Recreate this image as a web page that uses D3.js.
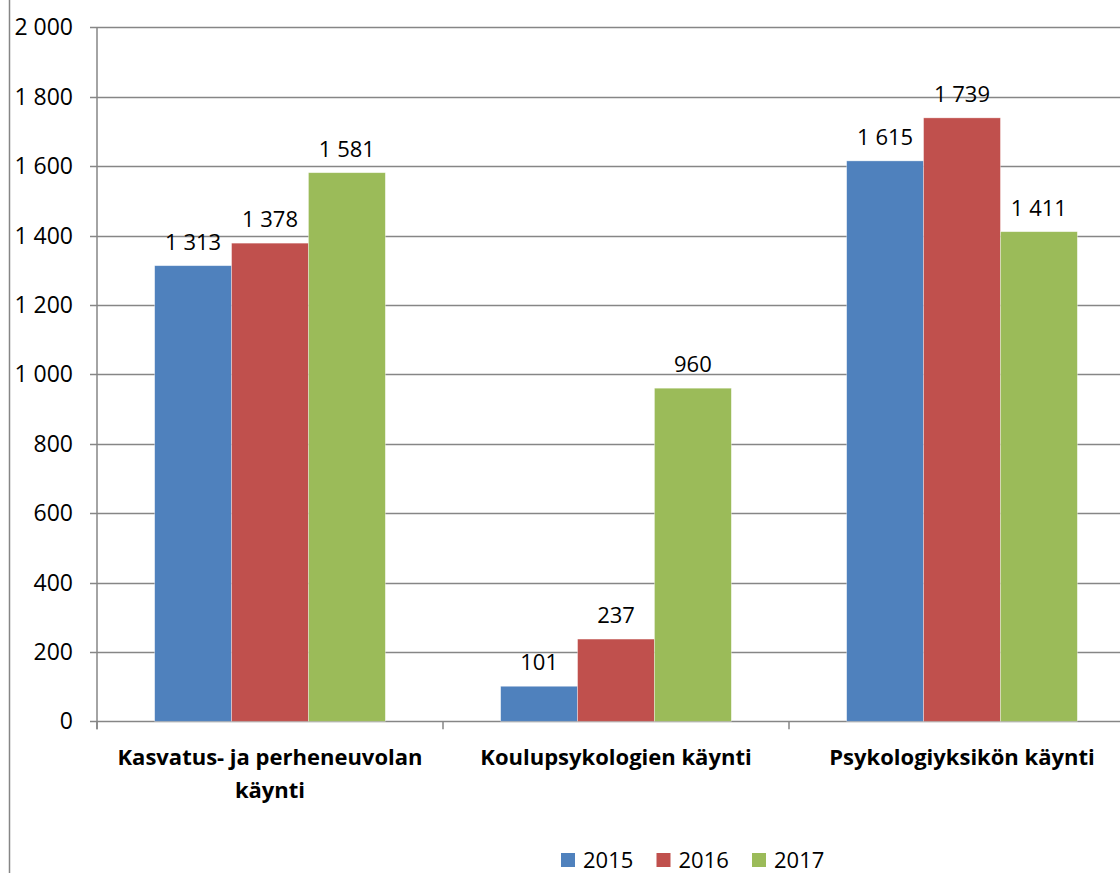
<!DOCTYPE html>
<html>
<head>
<meta charset="utf-8">
<script src="https://cdn.jsdelivr.net/npm/d3@7"></script>
<style>
  body { margin: 0; background: #fff; }
  svg { display: block; font-family: "Open Sans", Lato, sans-serif; }
</style>
</head>
<body>
<svg id="chart" width="1120" height="873"></svg>
<script>
// data
var categories = [["Kasvatus- ja perheneuvolan", "käynti"], ["Koulupsykologien käynti"], ["Psykologiyksikön käynti"]];
var years = ["2015", "2016", "2017"];
var v2015 = [1313, 101, 1615];
var v2016 = [1378, 237, 1739];
var v2017 = [1581, 960, 1411];
var yTicks = [0, 200, 400, 600, 800, 1000, 1200, 1400, 1600, 1800, 2000];
var colors = ["#4F81BD", "#C0504D", "#9BBB59"];

var series = [v2015, v2016, v2017];

var svg = d3.select("svg#chart"),
    width = +svg.attr("width"),
    height = +svg.attr("height");

var fmt = d3.formatLocale({decimal: ",", thousands: "\u00a0", grouping: [3], currency: ["", ""]}).format(",d");

// plot area
var plotLeft = 97, plotTop = 27.3, plotBottom = 721.3, catW = 346;

var x0 = d3.scaleBand().domain(d3.range(categories.length))
    .range([plotLeft, plotLeft + catW * categories.length]).paddingInner(0).paddingOuter(0);
var x1 = d3.scaleBand().domain(d3.range(years.length))
    .range([0, catW]).paddingInner(0).paddingOuter(0.75);
var y = d3.scaleLinear().domain([0, 2000]).range([plotBottom, plotTop]);

// outer chart border (left)
svg.append("line")
    .attr("x1", 9.5).attr("x2", 9.5).attr("y1", 0).attr("y2", height)
    .attr("stroke", "#868686").attr("stroke-width", 1.5);

// gridlines
svg.append("g").selectAll("line")
  .data(yTicks)
  .enter().append("line")
    .attr("x1", plotLeft - 7).attr("x2", width)
    .attr("y1", function(d) { return Math.round(y(d)) + 0.5; })
    .attr("y2", function(d) { return Math.round(y(d)) + 0.5; })
    .attr("stroke", "#868686").attr("stroke-width", 1.5);

// y axis line
svg.append("line")
    .attr("x1", plotLeft).attr("x2", plotLeft).attr("y1", plotTop).attr("y2", plotBottom + 8)
    .attr("stroke", "#868686").attr("stroke-width", 1.5);

// category ticks
svg.append("g").selectAll("line")
  .data(d3.range(categories.length + 1))
  .enter().append("line")
    .attr("x1", function(d) { return plotLeft + d * catW; })
    .attr("x2", function(d) { return plotLeft + d * catW; })
    .attr("y1", plotBottom).attr("y2", plotBottom + 8)
    .attr("stroke", "#868686").attr("stroke-width", 1.5);

// y labels
svg.append("g").selectAll("text")
  .data(yTicks)
  .enter().append("text")
    .attr("x", 73)
    .attr("y", function(d) { return y(d); })
    .attr("dy", "0.35em")
    .attr("text-anchor", "end")
    .style("font-size", "23px")
    .style("fill", "#000")
    .text(function(d) { return fmt(d); });

// bars
var group = svg.append("g").selectAll("g")
  .data(categories)
  .enter().append("g")
    .attr("transform", function(d, i) { return "translate(" + x0(i) + ",0)"; });

group.each(function(c, ci) {
  var g = d3.select(this);
  series.forEach(function(s, si) {
    g.append("rect")
      .attr("x", x1(si))
      .attr("y", y(s[ci]))
      .attr("width", x1.bandwidth())
      .attr("height", y(0) - y(s[ci]))
      .attr("fill", colors[si])
      .attr("stroke", "#fff").attr("stroke-opacity", 0.5).attr("stroke-width", 0.7);
    g.append("text")
      .attr("x", x1(si) + x1.bandwidth() / 2)
      .attr("y", y(s[ci]) - 16)
      .attr("text-anchor", "middle")
      .style("font-size", "22px")
      .style("fill", "#000")
      .text(fmt(s[ci]));
  });
});

// category labels
group.append("text")
    .attr("text-anchor", "middle")
    .style("font-size", "22px")
    .style("font-weight", "bold")
    .style("fill", "#000")
    .selectAll("tspan")
    .data(function(d) { return d; })
    .enter().append("tspan")
      .attr("x", catW / 2)
      .attr("y", function(d, i) { return 765 + i * 33; })
      .text(function(d) { return d; });

// legend
var legend = svg.append("g").selectAll("g")
  .data(years)
  .enter().append("g")
    .attr("transform", function(d, i) { return "translate(" + (561 + i * 95.5) + ",853)"; });
legend.append("rect")
    .attr("width", 14).attr("height", 14)
    .attr("fill", function(d, i) { return colors[i]; });
legend.append("text")
    .attr("x", 22).attr("y", 7).attr("dy", "0.36em")
    .style("font-size", "22px")
    .style("fill", "#000")
    .text(function(d) { return d; });
</script>
</body>
</html>
